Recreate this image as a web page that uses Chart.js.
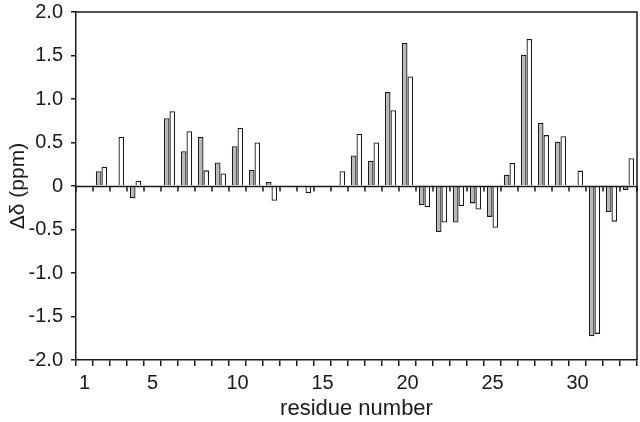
<!DOCTYPE html>
<html>
<head>
<meta charset="utf-8">
<script src="https://cdn.jsdelivr.net/npm/chart.js@4/dist/chart.umd.min.js"></script>
<style>
  html, body { margin: 0; padding: 0; background: #fff; }
  canvas { display: block; }
</style>
</head>
<body>
<canvas id="myChart" width="640" height="422"></canvas>
<script>
const residues = Array.from({ length: 33 }, (_, i) => String(i + 1))
const shownLabels = ['1', '5', '10', '15', '20', '25', '30']

// grey bars (left of each pair)
const greyShift = [null, 0.17, null, -0.14, null, 0.78, 0.40, 0.565, 0.27, 0.457, 0.185, 0.046, null, null, null, null,
  0.35, 0.29, 1.08, 1.645, -0.22, -0.53, -0.42, -0.20, -0.355, 0.13, 1.51, 0.727, 0.51, null, -1.727, -0.30, -0.045]
// open bars (right of each pair)
const openShift = [null, 0.22, 0.565, 0.06, null, 0.86, 0.63, 0.18, 0.145, 0.67, 0.50, -0.17, null, -0.08, null, 0.17,
  0.60, 0.50, 0.87, 1.26, -0.245, -0.42, -0.23, -0.27, -0.48, 0.265, 1.69, 0.585, 0.572, 0.177, -1.70, -0.41, 0.32]

const ink = '#1a1a1a'
const font = 'Liberation Sans, Arial, Helvetica, sans-serif'

// frame on top/right plus the zero line with its little ticks
const framePlugin = {
  id: 'frame',
  afterDatasetsDraw (chart) {
    const ctx = chart.ctx
    const a = chart.chartArea
    const x = chart.scales.x
    const y = chart.scales.y
    const y0 = Math.round(y.getPixelForValue(0)) + 0.5
    ctx.save()
    ctx.strokeStyle = ink
    ctx.lineWidth = 1.5
    ctx.beginPath()
    ctx.moveTo(a.left, a.top)
    ctx.lineTo(a.right, a.top)
    ctx.lineTo(a.right, a.bottom)
    ctx.stroke()
    ctx.beginPath()
    ctx.moveTo(a.left, y0)
    ctx.lineTo(a.right, y0)
    ctx.stroke()
    ctx.beginPath()
    for (let i = 0; i <= residues.length; i++) {
      const px = Math.round(x.getPixelForValue(i - 0.5))
      ctx.moveTo(px, y0)
      ctx.lineTo(px, y0 + 5)
    }
    ctx.stroke()
    ctx.restore()
  }
}

const ctx = document.querySelector('#myChart')
const myChart = new Chart(ctx, {
  type: 'bar',
  data: {
    labels: residues,
    datasets: [
      {
        data: greyShift,
        backgroundColor: '#b8b8b8',
        borderColor: ink,
        borderWidth: 1.3,
        categoryPercentage: 0.66,
        barPercentage: 1
      },
      {
        data: openShift,
        backgroundColor: '#ffffff',
        borderColor: ink,
        borderWidth: 1.3,
        categoryPercentage: 0.66,
        barPercentage: 1
      }
    ]
  },
  options: {
    responsive: false,
    animation: false,
    layout: { padding: { left: 0, right: 3, top: 12, bottom: 0 } },
    plugins: {
      legend: { display: false },
      tooltip: { enabled: false }
    },
    scales: {
      x: {
        afterFit: s => { s.height = 62; s.paddingLeft = 0; s.paddingRight = 0 },
        grid: { drawOnChartArea: false, drawTicks: true, tickLength: 6, color: ink, lineWidth: 1.5, offset: true },
        border: { display: true, color: ink, width: 1.5 },
        ticks: {
          autoSkip: false,
          maxRotation: 0,
          padding: 5,
          color: ink,
          font: { family: font, size: 20 },
          callback: function (v) {
            const l = this.getLabelForValue(v)
            return shownLabels.includes(l) ? l : ''
          }
        },
        title: {
          display: true,
          text: 'residue number',
          color: ink,
          font: { family: font, size: 22 },
          padding: { top: 0, bottom: 0 }
        }
      },
      y: {
        min: -2,
        max: 2,
        afterFit: s => { s.width = 76; s.paddingTop = 0; s.paddingBottom = 0 },
        grid: { drawOnChartArea: false, drawTicks: true, tickLength: 5, color: ink, lineWidth: 1.5 },
        border: { display: true, color: ink, width: 1.5 },
        ticks: {
          stepSize: 0.5,
          padding: 8,
          color: ink,
          font: { family: font, size: 20 },
          callback: v => v === 0 ? '0' : v.toFixed(1)
        },
        title: {
          display: true,
          text: 'Δδ (ppm)',
          color: ink,
          font: { family: font, size: 21 },
          padding: { top: 6, bottom: 0 }
        }
      }
    }
  },
  plugins: [framePlugin]
})
</script>
</body>
</html>
